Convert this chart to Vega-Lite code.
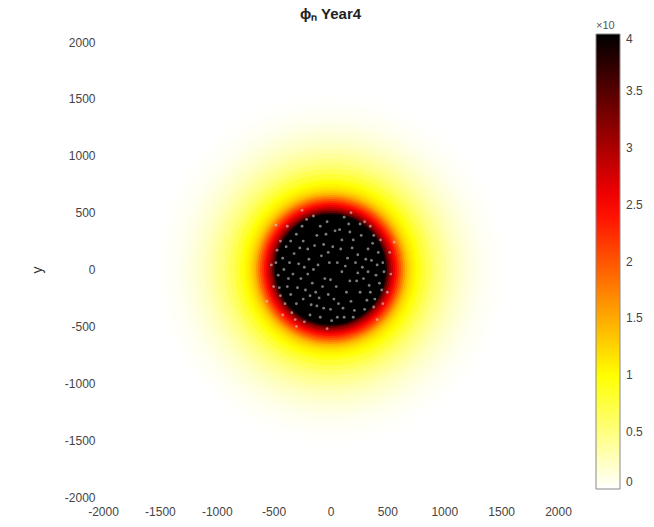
{
  "$schema": "https://vega.github.io/schema/vega-lite/v6.json",
  "width": 455,
  "height": 455,
  "autosize": {"type": "none"},
  "padding": {"left": 103, "top": 42, "right": 96, "bottom": 30},
  "background": "white",
  "config": {
    "view": {"stroke": null},
    "font": "Liberation Sans",
    "axis": {"domain": false, "ticks": false, "grid": false, "labelFlush": false, "labelFontSize": 12, "labelColor": "#444444", "labelFont": "Liberation Sans", "titleFont": "Liberation Sans", "titleFontWeight": "normal", "titleFontSize": 14, "titleColor": "#333333"}
  },
  "title": {"text": "ϕₙ Year4", "fontSize": 15, "fontWeight": "bold", "color": "#222222", "font": "Liberation Sans", "anchor": "middle", "frame": "group", "offset": -2},
  "datasets": {
    "rings": [
      {"cx": 0, "cy": 0, "r": 1800, "v": 0.0},
      {"cx": 0, "cy": 0, "r": 1750, "v": 0.005},
      {"cx": 0, "cy": 0, "r": 1700, "v": 0.01},
      {"cx": 0, "cy": 0, "r": 1650, "v": 0.02},
      {"cx": 0, "cy": 0, "r": 1600, "v": 0.035},
      {"cx": 0, "cy": 0, "r": 1550, "v": 0.05},
      {"cx": 0, "cy": 0, "r": 1500, "v": 0.07},
      {"cx": 0, "cy": 0, "r": 1450, "v": 0.1},
      {"cx": 0, "cy": 0, "r": 1400, "v": 0.13},
      {"cx": 0, "cy": 0, "r": 1350, "v": 0.17},
      {"cx": 0, "cy": 0, "r": 1300, "v": 0.21},
      {"cx": 0, "cy": 0, "r": 1250, "v": 0.26},
      {"cx": 0, "cy": 0, "r": 1200, "v": 0.32},
      {"cx": 0, "cy": 0, "r": 1150, "v": 0.39},
      {"cx": 0, "cy": 0, "r": 1100, "v": 0.46},
      {"cx": 0, "cy": 0, "r": 1050, "v": 0.55},
      {"cx": 0, "cy": 0, "r": 1000, "v": 0.66},
      {"cx": 0, "cy": 0, "r": 950, "v": 0.78},
      {"cx": 0, "cy": 0, "r": 900, "v": 0.9},
      {"cx": 0, "cy": 0, "r": 875, "v": 0.97},
      {"cx": 0, "cy": 0, "r": 850, "v": 1.05},
      {"cx": 0, "cy": 0, "r": 825, "v": 1.12},
      {"cx": 0, "cy": 0, "r": 800, "v": 1.2},
      {"cx": 0, "cy": 0, "r": 780, "v": 1.3},
      {"cx": 0, "cy": 0, "r": 760, "v": 1.42},
      {"cx": 0, "cy": 0, "r": 740, "v": 1.6},
      {"cx": 0, "cy": 0, "r": 720, "v": 1.8},
      {"cx": 0, "cy": 0, "r": 700, "v": 2.0},
      {"cx": 0, "cy": 0, "r": 680, "v": 2.2},
      {"cx": 0, "cy": 0, "r": 660, "v": 2.4},
      {"cx": 0, "cy": 0, "r": 640, "v": 2.6},
      {"cx": 0, "cy": 0, "r": 620, "v": 2.85},
      {"cx": 0, "cy": 0, "r": 600, "v": 3.1},
      {"cx": 0, "cy": 0, "r": 580, "v": 3.4},
      {"cx": 0, "cy": 0, "r": 560, "v": 3.8},
      {"cx": 0, "cy": 0, "r": 545, "v": 4.2}
    ],
    "specks": [
      {"x": -420, "y": 100}, {"x": -380, "y": -150}, {"x": -350, "y": 250}, {"x": -300, "y": -300},
      {"x": -280, "y": 50}, {"x": -250, "y": 380}, {"x": -220, "y": -180}, {"x": -200, "y": 180},
      {"x": -180, "y": -400}, {"x": -150, "y": 0}, {"x": -120, "y": 300}, {"x": -100, "y": -250},
      {"x": -80, "y": 120}, {"x": -50, "y": -80}, {"x": -30, "y": 420}, {"x": 0, "y": -350},
      {"x": 20, "y": 200}, {"x": 50, "y": -150}, {"x": 80, "y": 350}, {"x": 100, "y": -20},
      {"x": 120, "y": -420}, {"x": 150, "y": 100}, {"x": 180, "y": -280}, {"x": 200, "y": 260},
      {"x": 230, "y": -100}, {"x": 260, "y": 400}, {"x": 280, "y": 20}, {"x": 300, "y": -350},
      {"x": 330, "y": 180}, {"x": 350, "y": -200}, {"x": 380, "y": 300}, {"x": 400, "y": -50},
      {"x": 420, "y": 150}, {"x": 450, "y": -180}, {"x": -460, "y": -50}, {"x": -440, "y": 250},
      {"x": -400, "y": -300}, {"x": -330, "y": -40}, {"x": -260, "y": -80}, {"x": -240, "y": 250},
      {"x": -160, "y": -120}, {"x": -60, "y": 220}, {"x": -10, "y": 60}, {"x": 60, "y": 60},
      {"x": 140, "y": -200}, {"x": 200, "y": -420}, {"x": 240, "y": 130}, {"x": 320, "y": -270},
      {"x": 360, "y": 80}, {"x": -120, "y": -320}, {"x": -200, "y": -40}, {"x": -320, "y": 140},
      {"x": 70, "y": -300}, {"x": 170, "y": 330}, {"x": -90, "y": 380}, {"x": 10, "y": -450},
      {"x": -350, "y": -220}, {"x": 380, "y": -330}, {"x": 460, "y": 60}, {"x": -470, "y": 170},
      {"x": 500, "y": -200}, {"x": -500, "y": -150}, {"x": 520, "y": 150}, {"x": -380, "y": 380},
      {"x": 300, "y": 420}, {"x": -230, "y": -460}, {"x": 120, "y": 460}, {"x": -20, "y": -220},
      {"x": 240, "y": -30}, {"x": -420, "y": -400},
      {"x": -440, "y": -230}, {"x": -410, "y": 0}, {"x": -360, "y": 60}, {"x": -340, "y": -380},
      {"x": -300, "y": 310}, {"x": -290, "y": -160}, {"x": -270, "y": 190}, {"x": -240, "y": -260},
      {"x": -210, "y": 440}, {"x": -190, "y": 90}, {"x": -170, "y": -310}, {"x": -140, "y": 210},
      {"x": -130, "y": -200}, {"x": -110, "y": 40}, {"x": -90, "y": -420}, {"x": -70, "y": -150},
      {"x": -40, "y": 310}, {"x": -20, "y": 150}, {"x": 0, "y": -90}, {"x": 30, "y": -260},
      {"x": 40, "y": 340}, {"x": 60, "y": -420}, {"x": 90, "y": 180}, {"x": 110, "y": -340},
      {"x": 130, "y": 30}, {"x": 160, "y": 400}, {"x": 170, "y": -100}, {"x": 190, "y": 190},
      {"x": 210, "y": -360}, {"x": 260, "y": -200}, {"x": 270, "y": 300}, {"x": 290, "y": -80},
      {"x": 310, "y": 90}, {"x": 340, "y": -140}, {"x": 370, "y": 230}, {"x": 390, "y": -260},
      {"x": 410, "y": 40}, {"x": 430, "y": -120}, {"x": 440, "y": 260}, {"x": 470, "y": -20},
      {"x": -480, "y": 60}, {"x": -450, "y": -160}, {"x": -390, "y": 200}, {"x": -370, "y": -80},
      {"x": -230, "y": 20}, {"x": -180, "y": -230}, {"x": -60, "y": -340}, {"x": 100, "y": 260},
      {"x": 220, "y": 60}, {"x": 330, "y": -20}, {"x": -150, "y": 470}, {"x": -310, "y": -440},
      {"x": 460, "y": -300}, {"x": -520, "y": 40}, {"x": 530, "y": -40}, {"x": -300, "y": -500},
      {"x": 350, "y": 380}, {"x": -30, "y": -520}, {"x": 180, "y": 500}, {"x": -560, "y": -280},
      {"x": 560, "y": 240}, {"x": -250, "y": 520}, {"x": 410, "y": -440}, {"x": -480, "y": 390}
    ]
  },
  "encoding": {
    "x": {"type": "quantitative", "scale": {"domain": [-2000, 2000], "nice": false, "zero": false},
          "axis": {"title": null, "values": [-2000, -1500, -1000, -500, 0, 500, 1000, 1500, 2000], "labelExpr": "'' + datum.value", "labelPadding": 9}},
    "y": {"type": "quantitative", "scale": {"domain": [-2000, 2000], "nice": false, "zero": false},
          "axis": {"title": "y", "values": [-2000, -1500, -1000, -500, 0, 500, 1000, 1500, 2000], "labelExpr": "'' + datum.value", "labelPadding": 8, "titlePadding": 20}}
  },
  "layer": [
    {
      "data": {"name": "rings"},
      "mark": {"type": "point", "shape": "circle", "filled": true, "opacity": 1, "strokeWidth": 0},
      "encoding": {
        "x": {"field": "cx", "type": "quantitative"},
        "y": {"field": "cy", "type": "quantitative"},
        "size": {"field": "r", "type": "quantitative", "legend": null, "scale": {"type": "pow", "exponent": 2, "domain": [0, 2000], "range": [0, 162597], "zero": true}},
        "color": {
          "field": "v", "type": "quantitative",
          "scale": {"domain": [0, 1, 2.5, 4], "range": ["#ffffff", "#ffff00", "#ff0000", "#000000"], "interpolate": "rgb", "clamp": true},
          "legend": {
            "title": "  ×10", "titleFontSize": 11, "titleFontWeight": "normal", "titleColor": "#555555", "titleAnchor": "start", "titlePadding": 3,
            "orient": "none", "legendX": 493, "legendY": -22, "direction": "vertical",
            "gradientLength": 455, "gradientThickness": 24, "gradientStrokeColor": "#888888", "gradientStrokeWidth": 1,
            "values": [0, 0.5, 1, 1.5, 2, 2.5, 3, 3.5, 4], "format": "~g", "labelOverlap": false,
            "labelFontSize": 12, "labelColor": "#444444", "labelOffset": 6
          }
        }
      }
    },
    {
      "data": {"name": "specks"},
      "mark": {"type": "circle", "size": 8, "color": "#d0d0d0", "opacity": 0.6},
      "encoding": {
        "x": {"field": "x", "type": "quantitative"},
        "y": {"field": "y", "type": "quantitative"}
      }
    }
  ]
}
